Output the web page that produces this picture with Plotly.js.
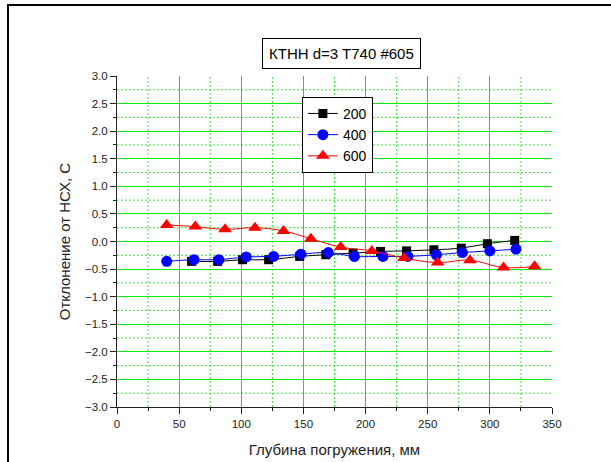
<!DOCTYPE html>
<html>
<head>
<meta charset="utf-8">
<script src="https://cdn.plot.ly/plotly-3.0.1.min.js"></script>
<style>
html,body{margin:0;padding:0;background:#fff;}
#chart{width:611px;height:462px;}
#frame{position:absolute;left:7px;top:4px;width:700px;height:600px;border-top:2px solid #000;border-left:2px solid #000;pointer-events:none;}
</style>
</head>
<body>
<div id="chart"></div>
<div id="frame"></div>
<script>
// Data (depth in mm, deviation in °C)
const depth200 = [60, 81, 101, 122, 147, 168, 190, 212, 233, 255, 277, 298, 320];
const dev200   = [-0.36, -0.36, -0.33, -0.33, -0.27, -0.24, -0.21, -0.18, -0.17, -0.15, -0.12, -0.04, 0.02];

const depth400 = [40, 62, 82, 104, 126, 148, 170, 191, 214, 234, 257, 278, 300, 321];
const dev400   = [-0.36, -0.33, -0.33, -0.28, -0.27, -0.23, -0.20, -0.27, -0.27, -0.27, -0.24, -0.20, -0.17, -0.14];

const depth600 = [40, 63, 87, 111, 134, 156, 180, 205, 231, 258, 284, 311, 336];
const dev600   = [0.30, 0.27, 0.22, 0.25, 0.19, 0.05, -0.10, -0.17, -0.30, -0.38, -0.34, -0.47, -0.45];

const seriesNames = ['200', '400', '600'];
const xRange = [0, 350];
const yRange = [-3, 3];
const xMinorTicks = [25, 75, 125, 175, 225, 275, 325];
const yMinorTicks = [-2.75, -2.25, -1.75, -1.25, -0.75, -0.25, 0.25, 0.75, 1.25, 1.75, 2.25, 2.75];
const chartTitle = 'КТНН d=3 T740 #605';
const xTitle = 'Глубина погружения, мм';
const yTitle = 'Отклонение от НСХ, С';

const FONT = 'Liberation Sans, Arial, sans-serif';
const MAJ = '#00ee00';
const MIN = '#44dd44';

const traces = [
  {x: depth200, y: dev200, name: seriesNames[0], type: 'scatter', mode: 'lines+markers',
   line: {color: '#000000', width: 1, shape: 'spline', smoothing: 1},
   marker: {symbol: 'square', size: 9, color: '#000000'}},
  {x: depth400, y: dev400, name: seriesNames[1], type: 'scatter', mode: 'lines+markers',
   line: {color: '#0000ff', width: 1, shape: 'spline', smoothing: 1},
   marker: {symbol: 'circle', size: 11, color: '#0000ff'}},
  {x: depth600, y: dev600, name: seriesNames[2], type: 'scatter', mode: 'lines+markers',
   line: {color: '#ff0000', width: 1, shape: 'spline', smoothing: 1.2},
   marker: {symbol: 'triangle-up', size: 12, color: '#ff0000'}}
];

// dotted minor grid placed through the axes' own scales
const minorGrid = [];
xMinorTicks.forEach(v => minorGrid.push({type: 'line', layer: 'below', xref: 'x', yref: 'paper',
  x0: v, x1: v, y0: 0, y1: 1, line: {color: MIN, width: 1, dash: '2px,2px'}}));
yMinorTicks.forEach(v => minorGrid.push({type: 'line', layer: 'below', xref: 'paper', yref: 'y',
  x0: 0, x1: 1, y0: v, y1: v, line: {color: MIN, width: 1, dash: '2px,2px'}}));

const layout = {
  width: 611, height: 462,
  margin: {l: 117, r: 59, t: 76, b: 55},
  paper_bgcolor: '#ffffff', plot_bgcolor: '#ffffff',
  font: {family: FONT, color: '#222222', size: 11},
  showlegend: true,
  legend: {x: 0.425, y: 0.937, xanchor: 'left', yanchor: 'top',
    bordercolor: '#000000', borderwidth: 1, bgcolor: '#ffffff',
    font: {family: FONT, size: 14, color: '#000000'}, tracegroupgap: 0},
  xaxis: {range: xRange, tickmode: 'linear', tick0: 0, dtick: 50,
    showline: true, linecolor: '#222222', linewidth: 1,
    ticks: 'outside', ticklen: 6, tickwidth: 1, tickcolor: '#222222',
    showgrid: true, gridcolor: MAJ, gridwidth: 1, griddash: 'solid', zeroline: false,
    minor: {tickmode: 'array', tickvals: xMinorTicks, ticks: 'outside', ticklen: 3,
      tickwidth: 1, tickcolor: '#222222', showgrid: false},
    tickfont: {family: FONT, size: 11.5, color: '#222222'},
    title: {text: xTitle, font: {family: FONT, size: 15, color: '#222222'}, standoff: 15}},
  yaxis: {range: yRange, tickmode: 'linear', tick0: 0, dtick: 0.5, tickformat: '.1f',
    showline: true, linecolor: '#222222', linewidth: 1,
    ticks: 'outside', ticklen: 6, tickwidth: 1, tickcolor: '#222222',
    showgrid: true, gridcolor: MAJ, gridwidth: 1, griddash: 'solid', zeroline: false,
    minor: {tickmode: 'array', tickvals: yMinorTicks, ticks: 'outside', ticklen: 3,
      tickwidth: 1, tickcolor: '#222222', showgrid: false},
    tickfont: {family: FONT, size: 11.5, color: '#222222'},
    title: {text: yTitle, font: {family: FONT, size: 15, color: '#222222'}, standoff: 10}},
  shapes: minorGrid,
  annotations: [{
    text: chartTitle, xref: 'paper', yref: 'paper', x: 0.515, y: 1.069,
    xanchor: 'center', yanchor: 'middle', showarrow: false,
    font: {family: FONT, size: 15, color: '#000000'},
    bordercolor: '#000000', borderwidth: 1, borderpad: 6, bgcolor: '#ffffff'
  }]
};

Plotly.newPlot('chart', traces, layout, {displayModeBar: false, staticPlot: true});
</script>
</body>
</html>
